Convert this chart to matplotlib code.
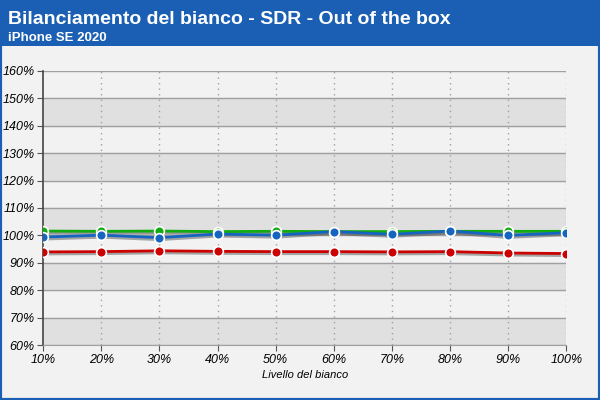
import matplotlib
matplotlib.use("Agg")
import matplotlib.pyplot as plt
from matplotlib.patches import Rectangle

levels = [10, 20, 30, 40, 50, 60, 70, 80, 90, 100]
red = [94.0, 94.1, 94.4, 94.2, 94.1, 94.1, 94.0, 94.1, 93.6, 93.4]
green = [101.6, 101.5, 101.6, 101.4, 101.5, 101.4, 101.4, 101.5, 101.5, 101.5]
blue = [99.4, 100.1, 99.2, 100.5, 100.1, 101.4, 100.4, 101.6, 100.0, 101.0]
yticks = list(range(60, 161, 10))

fig = plt.figure(figsize=(6, 4), dpi=100, facecolor="#f2f2f2")
fig.patches.append(Rectangle((0, 0), 1, 1, transform=fig.transFigure,
                             fill=False, edgecolor="#1a5fb4", linewidth=3))
fig.patches.append(Rectangle((0, 0.885), 1, 0.115, transform=fig.transFigure,
                             facecolor="#1a5fb4", edgecolor="none"))
fig.text(0.013, 0.95, "Bilanciamento del bianco - SDR - Out of the box", color="white",
         fontsize=14, fontweight="bold", va="center", family="Liberation Sans")
fig.text(0.013, 0.905, "iPhone SE 2020", color="white", fontsize=9.5,
         fontweight="bold", va="center", family="Liberation Sans")

ax = fig.add_axes([0.072, 0.137, 0.872, 0.686])
ax.set_facecolor("#f2f2f2")
for i, lo in enumerate(yticks[:-1]):
    if i % 2 == 0:
        ax.axhspan(lo, lo + 10, color="#e0e0e0", zorder=0)
for y in yticks:
    ax.axhline(y, color="#a0a0a0", lw=1, zorder=1)
for x in levels[1:]:
    ax.axvline(x, color="#a0a0a0", lw=1, ls=(0, (1, 3)), zorder=1)

for vals, c in [(red, "#cc0000"), (green, "#11aa11"), (blue, "#1565c0")]:
    ax.plot(levels, [v - 0.5 for v in vals], color="#555555", lw=3, alpha=0.5, zorder=2)
    ax.plot(levels, vals, color=c, lw=2, marker="o", ms=7, mec="white", mew=1.2, zorder=3)

ax.set_xlim(10, 100)
ax.set_ylim(60, 160)
ax.set_xticks(levels, [f"{v}%" for v in levels])
ax.set_yticks(yticks, [f"{v}%" for v in yticks])
ax.tick_params(labelsize=9, length=4, color="#555555", pad=2)
for lab in ax.get_xticklabels() + ax.get_yticklabels():
    lab.set_fontstyle("italic")
    lab.set_family("Liberation Sans")
ax.set_xlabel("Livello del bianco", fontsize=8, fontstyle="italic", labelpad=3,
              family="Liberation Sans")
for s in ["top", "right"]:
    ax.spines[s].set_visible(False)
ax.spines["left"].set_linewidth(1.2)
ax.spines["left"].set_color("#444444")
ax.spines["bottom"].set_color("#a0a0a0")

fig.savefig("out.png", dpi=100, facecolor=fig.get_facecolor())
